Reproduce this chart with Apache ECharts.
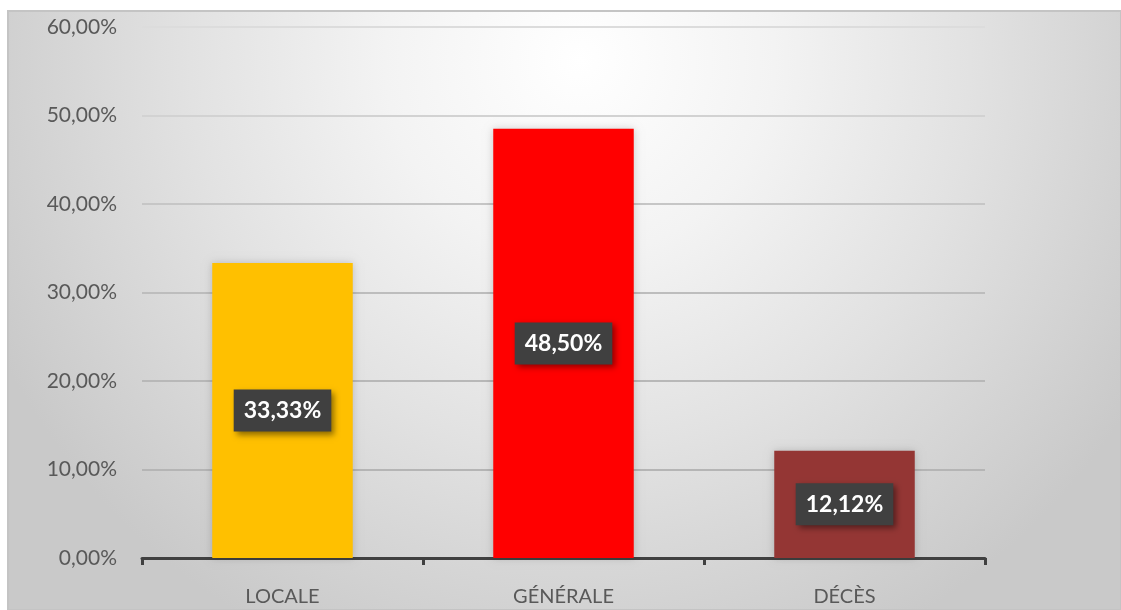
<!DOCTYPE html>
<html>
<head>
<meta charset="utf-8">
<script src="https://cdn.jsdelivr.net/npm/echarts@6/dist/echarts.min.js"></script>
<style>
  html, body { margin: 0; padding: 0; background: #ffffff; }
  #chart { width: 1121px; height: 610px; }
</style>
</head>
<body>
<div id="chart"></div>
<script>
// Share of cases by type (percent)
const categories = ['LOCALE', 'GÉNÉRALE', 'DÉCÈS'];
const values = [33.33, 48.50, 12.12];
const barColors = ['#FFC000', '#FF0000', '#943634'];
const yTicks = { min: 0, max: 60, interval: 10 };

const frac = v => v.toFixed(2).replace('.', ',') + '%';

const chart = echarts.init(document.getElementById('chart'), null, { renderer: 'canvas' });

chart.setOption({
  animation: false,
  backgroundColor: '#ffffff',
  graphic: [
    {
      // light radial plot-area backdrop
      type: 'rect',
      z: -10,
      silent: true,
      shape: { x: 8, y: 11, width: 1113, height: 599 },
      style: {
        fill: new echarts.graphic.RadialGradient(580, 60, 650, [
          { offset: 0, color: '#ffffff' },
          { offset: 0.3, color: '#f3f3f3' },
          { offset: 0.6, color: '#e2e2e2' },
          { offset: 1, color: '#c9c9c9' }
        ], true),
        stroke: '#c4c4c4',
        lineWidth: 2
      }
    }
  ],
  grid: { left: 142, right: 136, top: 27, bottom: 52, containLabel: false },
  xAxis: {
    type: 'category',
    data: categories,
    boundaryGap: true,
    axisLine: { show: true, lineStyle: { color: '#404040', width: 3 } },
    axisTick: { show: true, alignWithLabel: false, length: 7, lineStyle: { color: '#404040', width: 3 } },
    axisLabel: {
      color: '#595959',
      fontFamily: 'Lato, "Open Sans", sans-serif',
      fontSize: 20,
      margin: 29
    }
  },
  yAxis: {
    type: 'value',
    min: yTicks.min,
    max: yTicks.max,
    interval: yTicks.interval,
    axisLine: { show: false },
    axisTick: { show: false },
    splitLine: {
      lineStyle: {
        color: ['#b5b5b5', '#b5b5b5', '#b8b8b8', '#bdbdbd', '#c6c6c6', '#d2d2d2', '#dcdcdc'],
        width: 2
      }
    },
    axisLabel: {
      color: '#595959',
      fontFamily: 'Lato, "Open Sans", sans-serif',
      fontSize: 21,
      margin: 25,
      formatter: v => frac(v)
    }
  },
  series: [
    {
      type: 'bar',
      barWidth: '50%',
      data: values.map((v, i) => ({
        value: v,
        itemStyle: {
          color: barColors[i],
          shadowColor: 'rgba(0,0,0,0.18)',
          shadowBlur: 8,
          shadowOffsetX: 0,
          shadowOffsetY: 0
        }
      })),
      label: {
        show: true,
        position: 'inside',
        formatter: p => frac(p.value),
        color: '#ffffff',
        fontFamily: 'Lato, "Open Sans", sans-serif',
        fontWeight: 'bold',
        fontSize: 23,
        backgroundColor: '#404040',
        padding: [10, 10, 9, 10],
        shadowColor: 'rgba(0,0,0,0.45)',
        shadowBlur: 6,
        shadowOffsetX: 3,
        shadowOffsetY: 3
      }
    }
  ]
});
</script>
</body>
</html>
